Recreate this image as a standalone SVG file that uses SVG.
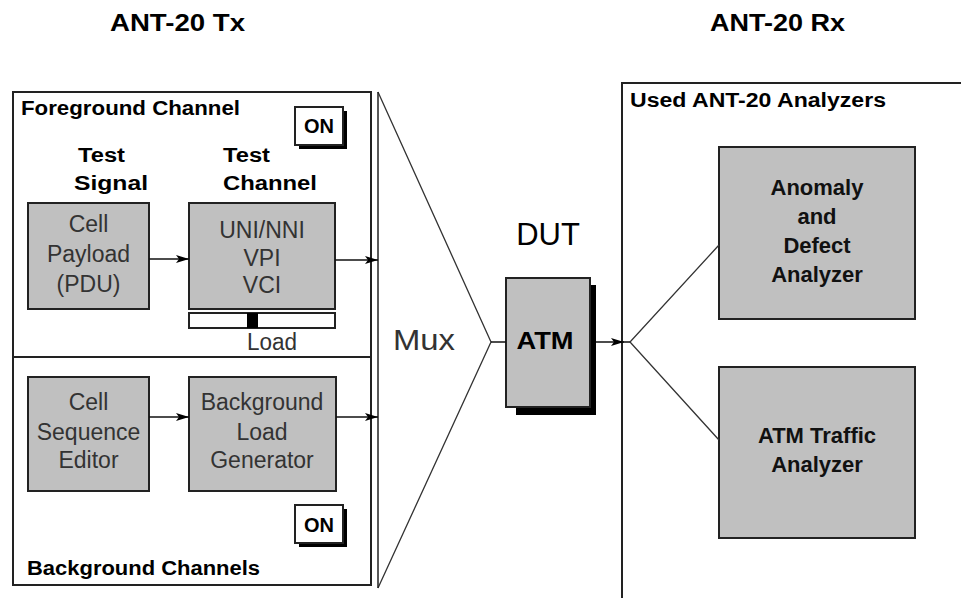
<svg xmlns="http://www.w3.org/2000/svg" width="961" height="598" viewBox="0 0 961 598">
<defs>
<style>
.frame{fill:none;stroke:#222;stroke-width:2}
.box{fill:#c0c0c0;stroke:#222;stroke-width:2}
.on{fill:#fff;stroke:#222;stroke-width:2}
.shadow{fill:#000}
.lbl{font-family:"Liberation Sans",Arial,sans-serif;font-weight:bold;font-size:20px;fill:#000}
.reg{font-family:"Liberation Sans",Arial,sans-serif;font-size:23px;fill:#333;text-anchor:middle}
.bc{font-family:"Liberation Sans",Arial,sans-serif;font-weight:bold;font-size:22px;fill:#111;text-anchor:middle}
.title{font-family:"Liberation Sans",Arial,sans-serif;font-weight:bold;font-size:24px;fill:#000}
.conn{stroke:#111;stroke-width:1.5;fill:none}
.thin{stroke:#333;stroke-width:1.3;fill:none}
</style>
<marker id="ah" markerUnits="userSpaceOnUse" markerWidth="14" markerHeight="10" refX="13" refY="5" orient="auto">
<path d="M0,1 L13,5 L0,9 L3,5 z" fill="#000"/>
</marker>
</defs>

<g id="titles">
<text class="title" x="110" y="31" textLength="135" lengthAdjust="spacingAndGlyphs">ANT-20 Tx</text>
<text class="title" x="710" y="31" textLength="135" lengthAdjust="spacingAndGlyphs">ANT-20 Rx</text>
</g>

<g id="tx-frame">
<rect class="frame" x="13" y="92" width="358" height="493"/>
<line class="frame" x1="13" y1="357" x2="371" y2="357"/>
<text class="lbl" x="21" y="115" textLength="219" lengthAdjust="spacingAndGlyphs">Foreground Channel</text>
<text class="lbl" x="27" y="575" textLength="233" lengthAdjust="spacingAndGlyphs">Background Channels</text>
</g>

<g id="on-fg">
<rect class="shadow" x="299" y="111" width="48" height="38"/>
<rect class="on" x="295" y="107" width="48" height="38"/>
<text class="lbl" x="319" y="133" text-anchor="middle">ON</text>
</g>

<g id="on-bg">
<rect class="shadow" x="299" y="509" width="48" height="38"/>
<rect class="on" x="295" y="505" width="48" height="38"/>
<text class="lbl" x="319" y="532" text-anchor="middle">ON</text>
</g>

<g id="test-signal-label">
<text class="lbl" x="78" y="162" textLength="47" lengthAdjust="spacingAndGlyphs">Test</text>
<text class="lbl" x="74" y="190" textLength="74" lengthAdjust="spacingAndGlyphs">Signal</text>
</g>
<g id="test-channel-label">
<text class="lbl" x="223" y="162" textLength="47" lengthAdjust="spacingAndGlyphs">Test</text>
<text class="lbl" x="223" y="190" textLength="94" lengthAdjust="spacingAndGlyphs">Channel</text>
</g>

<g id="cell-payload">
<rect class="box" x="28" y="203" width="121" height="106"/>
<text class="reg" x="88.5" y="232">Cell</text>
<text class="reg" x="88.5" y="262">Payload</text>
<text class="reg" x="88.5" y="292">(PDU)</text>
</g>

<g id="uni-nni">
<rect class="box" x="189" y="203" width="146" height="106"/>
<text class="reg" x="262" y="238">UNI/NNI</text>
<text class="reg" x="262" y="266">VPI</text>
<text class="reg" x="262" y="293">VCI</text>
</g>

<g id="load-slider">
<rect class="on" x="189" y="313" width="146" height="15"/>
<rect x="247" y="313" width="11" height="15" fill="#000"/>
<text class="reg" x="272" y="350" textLength="50" lengthAdjust="spacingAndGlyphs">Load</text>
</g>

<g id="cell-sequence-editor">
<rect class="box" x="28" y="377" width="121" height="114"/>
<text class="reg" x="88.5" y="410">Cell</text>
<text class="reg" x="88.5" y="440">Sequence</text>
<text class="reg" x="88.5" y="468">Editor</text>
</g>

<g id="background-load-generator">
<rect class="box" x="189" y="377" width="147" height="114"/>
<text class="reg" x="262" y="410">Background</text>
<text class="reg" x="262" y="440">Load</text>
<text class="reg" x="262" y="468">Generator</text>
</g>

<g id="mux">
<path class="thin" d="M378,92 L491,342 L378,588"/>
<line class="frame" x1="378" y1="92" x2="378" y2="588" style="stroke-width:1.5"/>
<text x="393" y="350" font-family="Liberation Sans, Arial, sans-serif" font-size="29" fill="#333" textLength="62" lengthAdjust="spacingAndGlyphs">Mux</text>
</g>

<g id="dut">
<text x="548" y="245" font-family="Liberation Sans, Arial, sans-serif" font-size="31" fill="#000" text-anchor="middle">DUT</text>
<rect class="shadow" x="516" y="285" width="80" height="130"/>
<rect class="box" x="506" y="278" width="84" height="129"/>
<text class="lbl" x="545" y="349" text-anchor="middle" font-size="24" style="font-size:24px" textLength="57" lengthAdjust="spacingAndGlyphs">ATM</text>
</g>

<g id="rx-frame">
<path class="frame" d="M622,598 L622,83 L961,83"/>
<text class="lbl" x="630" y="107" textLength="256" lengthAdjust="spacingAndGlyphs">Used ANT-20 Analyzers</text>
</g>

<g id="anomaly-defect-analyzer">
<rect class="box" x="719" y="147" width="196" height="172"/>
<text class="bc" x="817" y="195">Anomaly</text>
<text class="bc" x="817" y="224">and</text>
<text class="bc" x="817" y="253">Defect</text>
<text class="bc" x="817" y="282">Analyzer</text>
</g>

<g id="atm-traffic-analyzer">
<rect class="box" x="719" y="367" width="196" height="171"/>
<text class="bc" x="817" y="443">ATM Traffic</text>
<text class="bc" x="817" y="472">Analyzer</text>
</g>

<g id="connectors">
<line class="conn" x1="149" y1="259" x2="189" y2="259" marker-end="url(#ah)"/>
<line class="conn" x1="335" y1="260" x2="378" y2="260" marker-end="url(#ah)"/>
<line class="conn" x1="149" y1="417" x2="189" y2="417" marker-end="url(#ah)"/>
<line class="conn" x1="336" y1="417" x2="378" y2="417" marker-end="url(#ah)"/>
<line class="conn" x1="491" y1="342" x2="506" y2="342"/>
<line class="conn" x1="596" y1="342" x2="624" y2="342" marker-end="url(#ah)"/>
<line class="conn" x1="622" y1="342" x2="630" y2="342"/>
<path class="thin" d="M719,245 L630,342 L719,440"/>
</g>
</svg>
